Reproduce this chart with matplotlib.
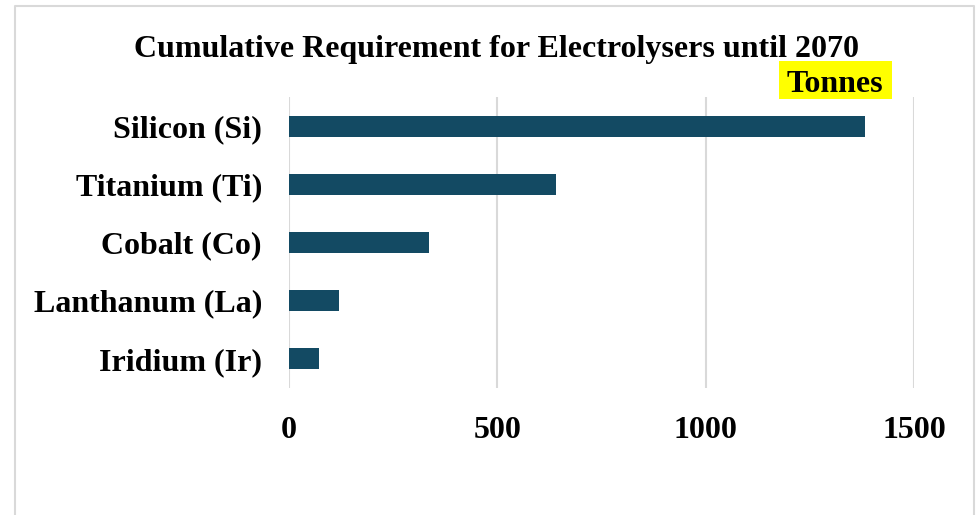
import matplotlib
matplotlib.use("Agg")
import matplotlib.pyplot as plt
from matplotlib.patches import Rectangle

# Data
materials = ["Silicon (Si)", "Titanium (Ti)", "Cobalt (Co)", "Lanthanum (La)", "Iridium (Ir)"]
tonnes = [1383, 641, 337, 120, 71]
x_ticks = [0, 500, 1000, 1500]
x_tick_labels = ["0", "500", "1000", "1500"]

title = "Cumulative Requirement for Electrolysers until 2070"
unit_label = "Tonnes"

W, H = 979, 515
fig = plt.figure(figsize=(W / 100, H / 100), dpi=100)
fig.patch.set_facecolor("white")

serif = ["Liberation Serif", "DejaVu Serif"]
fs = 23
bar_color = "#134A63"
grid_color = "#D9D9D9"

ax = fig.add_axes([289 / W, 1 - 388 / H, (914 - 289) / W, (388 - 97) / H])
ypos = list(range(len(materials)))
ax.barh(ypos, tonnes, height=0.36, color=bar_color, zorder=3)
ax.set_ylim(len(materials) - 0.5, -0.5)
ax.set_xlim(0, 1500)
ax.set_xticks(x_ticks)
ax.set_xticklabels(x_tick_labels, fontfamily=serif, fontweight="bold", fontsize=fs)
ax.set_yticks(ypos)
ax.set_yticklabels(materials, fontfamily=serif, fontweight="bold", fontsize=fs)
ax.tick_params(axis="both", length=0)
ax.tick_params(axis="x", pad=20.5)
ax.tick_params(axis="y", pad=19.5)
for s in ax.spines.values():
    s.set_visible(False)
ax.grid(axis="x", color=grid_color, linewidth=1.5, zorder=0)
ax.set_axisbelow(True)

# Title and unit tag
fig.text(496 / W, 1 - 49 / H, title, ha="center", va="center",
         fontfamily=serif, fontweight="bold", fontsize=fs)
fig.patches.append(Rectangle((779 / W, 1 - 99 / H), (892 - 779) / W, (99 - 61) / H,
                             transform=fig.transFigure, facecolor="#FFFF00",
                             edgecolor="none", zorder=1))
fig.text(835 / W, 1 - 84 / H, unit_label, ha="center", va="center",
         fontfamily=serif, fontweight="bold", fontsize=fs, zorder=2)

# Outer frame (open at the bottom)
frame_x = [15 / W, 15 / W, 974 / W, 974 / W]
frame_y = [0, 1 - 6 / H, 1 - 6 / H, 0]
fig.add_artist(plt.Line2D(frame_x, frame_y, transform=fig.transFigure,
                          color=grid_color, linewidth=1.5))

fig.savefig("out.png", dpi=100)
